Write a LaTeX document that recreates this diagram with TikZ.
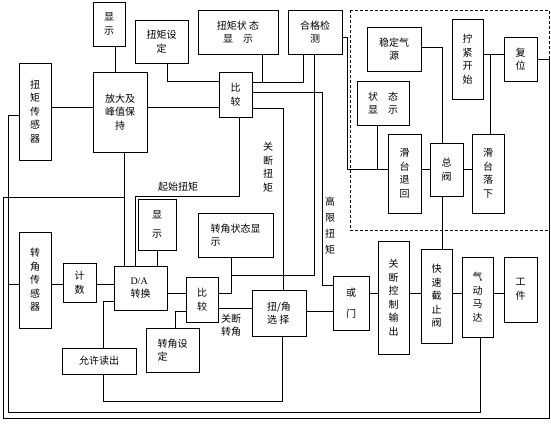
\documentclass[tikz,border=0pt]{standalone}
\usepackage{fontspec}
\setmainfont{Liberation Serif}
\newfontfamily\cjk{Noto Sans CJK SC}
\begin{document}
\begin{tikzpicture}[x=1pt,y=-1pt,line width=0.8pt,
  blk/.style={draw,align=center,inner sep=1pt,font=\cjk\fontsize{10}{13.5}\selectfont},
  sz/.style 2 args={minimum width=#1pt,minimum height=#2pt},
  lbl/.style={align=center,inner sep=0pt,font=\cjk\fontsize{10}{13.5}\selectfont}]
  \useasboundingbox (0,0) rectangle (551,423);

  % top row
  \node[blk,sz={32}{44}] (xsA) at (109,24) {显\\示};
  \node[blk,sz={53}{43}] (njsd) at (161.5,41.5) {扭矩设\\定};
  \node[blk,sz={80}{44}] (njzt) at (238,32) {扭矩状\ 态\\显\quad 示};
  \node[blk,sz={54}{44}] (hgjc) at (315,32) {合格检\\测};

  % torque branch
  \node[blk,sz={32}{97}] (njcg) at (35,111.5) {扭\\矩\\传\\感\\器};
  \node[blk,sz={54}{80}] (fd) at (120,112) {放大及\\峰值保\\持};
  \node[blk,sz={33}{45}] (bjA) at (235.5,94.5) {比\\较};

  % pneumatic part
  \node[blk,sz={54}{44}] (wdqy) at (394,49) {稳定气\\源};
  \node[blk,sz={31}{80}] (jjks) at (467.5,59) {拧\\紧\\开\\始};
  \node[blk,sz={33}{44}] (fw) at (520.5,59) {复\\位};
  \node[blk,sz={52}{44}] (ztxs) at (383,103) {状\quad 态\\显\quad 示};
  \node[blk,sz={33}{79}] (thth) at (404.5,173.5) {滑\\台\\退\\回};
  \node[blk,sz={33}{53}] (zf) at (446.5,169.5) {总\\阀};
  \node[blk,sz={32}{79}] (thlx) at (488,173.5) {滑\\台\\落\\下};
  \draw[dash pattern=on 3pt off 2pt] (350,10) rectangle (549,230);

  % angle branch
  \node[blk,sz={38}{51}] (xsB) at (157,224.5) {显\\[6pt]示};
  \node[blk,sz={75}{44},align=left] (zjzt) at (235.5,235) {转角状态显\\示};
  \node[blk,sz={32}{96}] (zjcg) at (35,280) {转\\角\\传\\感\\器};
  \node[blk,sz={33}{39}] (js) at (79.5,282.5) {计\\数};
  \node[blk,sz={53}{44},align=left] (da) at (140.5,288) {{\rmfamily D/A}\\转换};
  \node[blk,sz={32}{45}] (bjB) at (202,299.5) {比\\较};
  \node[blk,sz={53}{44},align=left] (zjsd) at (172.5,350) {转角设\\定};
  \node[blk,sz={74}{26}] (yxdc) at (99,361) {允许读出};
  \node[blk,sz={54}{46},align=left] (njxz) at (279,313) {扭/角\\选\ 择};

  % output chain
  \node[blk,sz={36}{54}] (hm) at (351,303) {或\\[8pt]门};
  \node[blk,sz={31}{113}] (gdkz) at (393.5,297.5) {关\\断\\控\\制\\输\\出};
  \node[blk,sz={31}{94}] (kszz) at (436.5,296) {快\\速\\截\\止\\阀};
  \node[blk,sz={31}{80}] (qdmd) at (477.5,297) {气\\动\\马\\达};
  \node[blk,sz={33}{65}] (gj) at (520.5,289.5) {工\\件};

  % labels
  \node[lbl] (lQS) at (178,187) {起始扭矩};
  \node[lbl] (lGN) at (268,167) {关\\断\\扭\\矩};
  \node[lbl] (lGX) at (330,226) {高\\[2.5pt]限\\[2.5pt]扭\\[2.5pt]矩};
  \node[lbl] (lGZ) at (231,325) {关断\\转角};

  % torque lines
  \draw ([xshift=6pt]xsA.south) -- ([xshift=6pt]xsA.south |- fd.north);
  \draw ([yshift=4.5pt]njcg.east) -- ([yshift=4.5pt]njcg.east -| fd.west);
  \draw ([yshift=5pt]fd.east) -- ([yshift=5pt]fd.east -| bjA.west);
  \draw ([xshift=5.5pt]njsd.south) |- ([yshift=13.5pt]bjA.west);
  \draw ([yshift=12.5pt]bjA.east) -| ([xshift=-12pt]hgjc.south);
  \draw ([xshift=24pt]njzt.south) -- ++(0,28);
  \draw ([yshift=2.5pt]bjA.east) -- (322,92) |- ([yshift=18pt]hm.west);
  \draw ([yshift=-13.5pt]bjA.east) -| ([xshift=4pt]njxz.north);
  \draw ([xshift=3.5pt]bjA.south) |- (135,196) -- ([xshift=-5.5pt]da.north);
  \draw ([xshift=4pt]fd.south) -- ([xshift=4pt]fd.south |- da.north);
  \draw (xsB.south) -- (xsB.south |- da.north);

  % feedback loops
  \coordinate (jA) at (124,197);
  \draw (fw.east) -| (549,418) -| (3,197) -- (jA);
  \draw ([xshift=2.5pt]qdmd.south) |- (8,412) |- ([yshift=-3.5pt]njcg.west);
  \draw (8,284) -- ([yshift=-4pt]zjcg.west);

  % angle lines
  \draw ([yshift=-4pt]zjcg.east) -- ([yshift=-4pt]zjcg.east -| js.west);
  \draw ([yshift=-1.5pt]js.east) -- ([yshift=-1.5pt]js.east -| da.west);
  \draw ([yshift=-5pt]da.east) -- ([yshift=-5pt]da.east -| bjB.west);
  \draw ([xshift=2.5pt]zjsd.north) |- ([yshift=-11.5pt]bjB.west);
  \draw ([yshift=6.5pt]bjB.east) -| ([xshift=-4.5pt]zjzt.south);
  \draw ([xshift=-1pt]hgjc.south) |- (231,275);
  \draw ([yshift=-8.5pt]bjB.east) -- ([yshift=-8.5pt]bjB.east -| njxz.west);
  \draw ([xshift=4pt]yxdc.north) |- ([yshift=-13pt]da.west);
  \draw ([xshift=4pt]yxdc.south) -- ++(0,27) -| ([xshift=3pt]njxz.south);

  % output lines
  \draw ([yshift=2pt]njxz.east) -- ([yshift=2pt]njxz.east -| hm.west);
  \draw ([yshift=10pt]hm.east) -- ([yshift=10pt]hm.east -| gdkz.west);
  \draw ([yshift=4.5pt]gdkz.east) -- ([yshift=4.5pt]gdkz.east -| kszz.west);
  \draw ([yshift=3pt]kszz.east) -- ([yshift=3pt]kszz.east -| qdmd.west);
  \draw ([yshift=4pt]qdmd.east) -- ([yshift=4pt]qdmd.east -| gj.west);

  % pneumatic lines
  \draw ([xshift=-4.5pt]zf.south) -- ([xshift=-4.5pt]zf.south |- kszz.north);
  \draw ([yshift=4.5pt]thth.east) -- ([yshift=4.5pt]thth.east -| zf.west);
  \draw ([yshift=0.5pt]zf.east) -- ([yshift=0.5pt]zf.east -| thlx.west);
  \draw ([yshift=2pt]wdqy.east) -| ([xshift=-4.5pt]zf.north);
  \draw ([yshift=5pt]jjks.east) -- ([yshift=5pt]jjks.east -| fw.west);
  \draw ([xshift=2pt]thlx.north) -- ++(0,-80);
  \draw ([yshift=-5pt]hgjc.east) -| (347,169) -- ([yshift=4.5pt]thth.west);
  \draw ([xshift=-6pt]ztxs.south) -- ++(0,44);
\end{tikzpicture}
\end{document}
